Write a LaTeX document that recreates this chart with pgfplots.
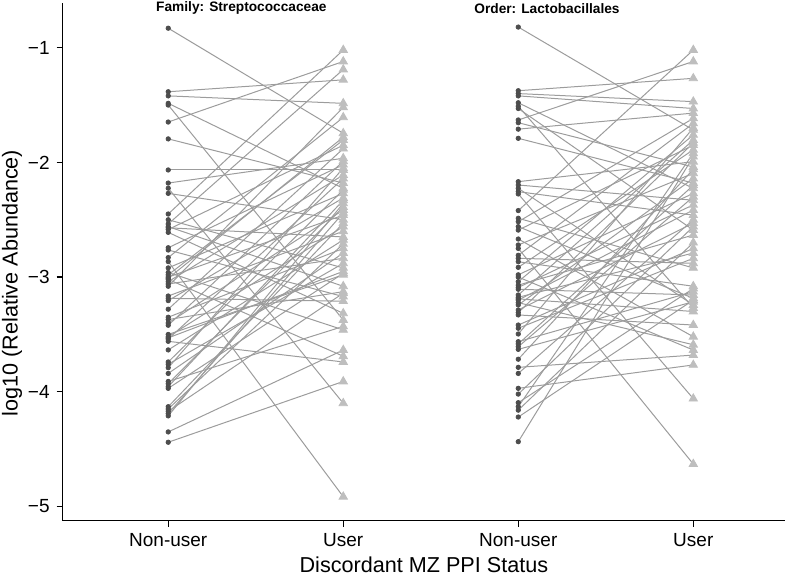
\documentclass[border=0pt]{standalone}
\usepackage{fontspec}
\setmainfont{Liberation Sans}
\usepackage{pgfplots}
\usepackage{pgfplotstable}
\pgfplotsset{compat=1.18}

\definecolor{dotc}{HTML}{4D4D4D}
\definecolor{tric}{HTML}{BEBEBE}
\definecolor{linec}{HTML}{9C9C9C}

% Family: Streptococcaceae, one row per twin pair
\pgfplotstableread[row sep=\\]{
nonuser user\\
-0.83 -1.746\\
-1.384 -1.28\\
-1.42 -1.485\\
-1.485 -2.226\\
-1.50 -3.374\\
-1.648 -1.12\\
-1.795 -2.18\\
-2.066 -2.066\\
-2.18 -1.964\\
-2.225 -4.10\\
-2.27 -2.50\\
-2.45 -1.02\\
-2.50 -2.92\\
-2.537 -1.19\\
-2.56 -3.08\\
-2.585 -1.85\\
-2.61 -3.316\\
-2.744 -2.02\\
-2.764 -3.17\\
-2.83 -1.607\\
-2.865 -4.915\\
-2.92 -2.27\\
-2.96 -3.46\\
-2.98 -1.805\\
-3.00 -2.46\\
-3.02 -3.69\\
-3.04 -2.11\\
-3.06 -2.836\\
-3.08 -1.52\\
-3.165 -2.60\\
-3.185 -3.21\\
-3.205 -2.31\\
-3.28 -1.88\\
-3.35 -2.75\\
-3.37 -3.127\\
-3.40 -2.415\\
-3.42 -1.99\\
-3.50 -2.98\\
-3.52 -2.56\\
-3.54 -2.14\\
-3.56 -3.74\\
-3.635 -2.676\\
-3.74 -2.24\\
-3.76 -2.88\\
-3.79 -2.05\\
-3.84 -2.79\\
-3.91 -3.43\\
-3.93 -2.39\\
-3.955 -2.33\\
-3.97 -2.967\\
-4.13 -2.53\\
-4.15 -2.71\\
-4.17 -3.14\\
-4.19 -2.44\\
-4.21 -2.357\\
-4.35 -3.636\\
-4.44 -3.91\\
-3.01 -1.78\\
-2.57 -2.65\\
-3.53 -2.95\\
}\famtab

% Order: Lactobacillales
\pgfplotstableread[row sep=\\]{
nonuser user\\
-0.82 -1.717\\
-1.375 -1.267\\
-1.40 -1.47\\
-1.42 -1.53\\
-1.48 -2.226\\
-1.51 -3.27\\
-1.53 -2.59\\
-1.63 -1.12\\
-1.654 -2.04\\
-1.71 -1.57\\
-1.79 -2.18\\
-2.168 -1.994\\
-2.197 -2.33\\
-2.226 -3.243\\
-2.255 -2.46\\
-2.275 -4.06\\
-2.42 -1.02\\
-2.487 -2.92\\
-2.517 -1.616\\
-2.56 -3.185\\
-2.59 -1.85\\
-2.668 -3.52\\
-2.72 -2.095\\
-2.75 -4.63\\
-2.81 -1.66\\
-2.836 -2.88\\
-2.866 -3.08\\
-2.915 -1.89\\
-2.98 -2.27\\
-3.00 -3.636\\
-3.04 -1.76\\
-3.07 -2.633\\
-3.09 -2.37\\
-3.106 -3.156\\
-3.156 -1.805\\
-3.176 -2.79\\
-3.20 -2.415\\
-3.223 -3.59\\
-3.243 -2.14\\
-3.287 -2.53\\
-3.31 -1.83\\
-3.33 -3.418\\
-3.418 -2.75\\
-3.446 -2.836\\
-3.496 -1.70\\
-3.563 -3.127\\
-3.583 -2.20\\
-3.607 -2.30\\
-3.63 -3.215\\
-3.716 -2.06\\
-3.787 -3.68\\
-3.84 -2.50\\
-3.97 -3.766\\
-4.02 -2.56\\
-4.095 -3.10\\
-4.13 -1.92\\
-4.16 -2.70\\
-4.22 -3.20\\
-4.435 -1.95\\
-3.19 -3.30\\
}\ordtab

\begin{document}
\begin{tikzpicture}
\useasboundingbox (0,0) rectangle (392.5pt,288pt);
\begin{axis}[
    at={(31.35pt,27.65pt)}, anchor=south west,
    scale only axis,
    width=361.15pt, height=258.85pt,
    xmin=-0.603, xmax=3.524,
    ymin=-5.124, ymax=-0.61,
    axis lines=left,
    axis line style={-, line width=0.6pt, black},
    tick align=outside,
    major tick length=3pt,
    tick style={black, line width=0.6pt},
    xtick={0,1,2,3},
    xticklabels={Non-user,User,Non-user,User},
    ytick={-5,-4,-3,-2,-1},
    yticklabels={−5,−4,−3,−2,−1},
    tick label style={font=\fontsize{9.5}{11}\selectfont},
    xlabel={Discordant MZ PPI Status},
    ylabel={log10 (Relative Abundance)},
    xlabel style={at={(axis description cs:0.5,-0.0856)}, anchor=center,
        font=\fontsize{10.8}{13}\selectfont},
    ylabel style={at={(axis description cs:-0.0702,0.459)}, anchor=center,
        font=\fontsize{10.8}{13}\selectfont},
    clip=false,
]
% paired lines
\addplot[linec, line width=0.5pt, no markers,
    quiver={u=1, v=\thisrow{user}-\thisrow{nonuser}}]
    table[x expr=0, y=nonuser] {\famtab};
\addplot[linec, line width=0.5pt, no markers,
    quiver={u=1, v=\thisrow{user}-\thisrow{nonuser}}]
    table[x expr=2, y=nonuser] {\ordtab};

% non-users
\addplot[only marks, mark=*, mark size=1.1pt, dotc]
    table[x expr=0, y=nonuser] {\famtab};
\addplot[only marks, mark=*, mark size=1.1pt, dotc]
    table[x expr=2, y=nonuser] {\ordtab};

% users
\addplot[only marks, mark=triangle*, mark size=2.4pt, tric]
    table[x expr=1, y=user] {\famtab};
\addplot[only marks, mark=triangle*, mark size=2.4pt, tric]
    table[x expr=3, y=user] {\ordtab};

\node[font=\bfseries\fontsize{6.85}{8}\selectfont] at (axis cs:0.418,-0.657) {Family: Streptococcaceae};
\node[font=\bfseries\fontsize{6.85}{8}\selectfont] at (axis cs:2.164,-0.657) {Order: Lactobacillales};
\end{axis}
\end{tikzpicture}
\end{document}
